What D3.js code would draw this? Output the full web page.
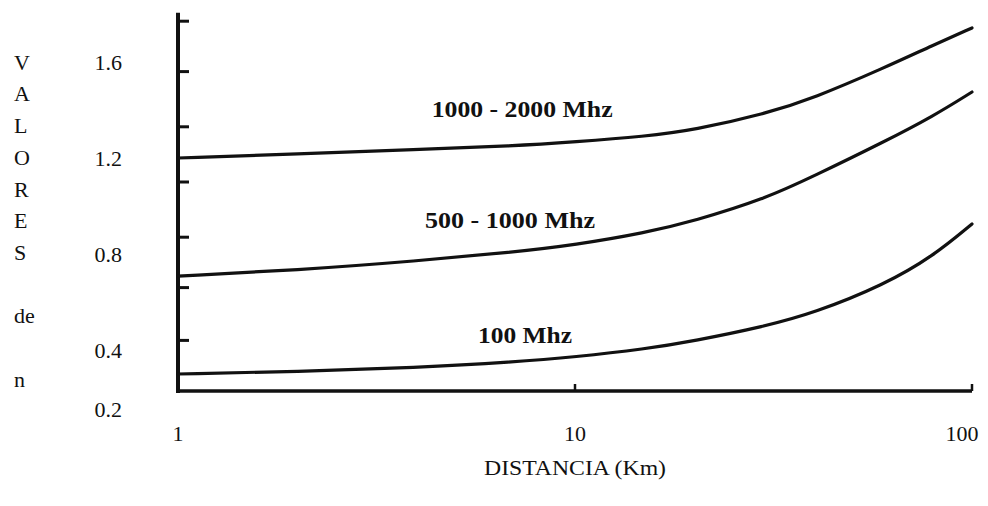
<!DOCTYPE html>
<html>
<head>
<meta charset="utf-8">
<script src="https://cdn.jsdelivr.net/npm/d3@7"></script>
<style>
  html, body { margin: 0; padding: 0; background: #fff; }
  svg { display: block; }
  text { font-family: "Liberation Serif", "Times New Roman", Times, serif; fill: #111; }
</style>
</head>
<body>
<svg id="chart" width="988" height="506"></svg>
<script>
// Distance samples (km) along the log axis
const distances = [1, 2, 4, 7, 10, 15, 20, 30, 40, 60, 80, 100];

// Values of n for each frequency band
const band1000to2000 = [1.200, 1.217, 1.235, 1.250, 1.267, 1.290, 1.317, 1.383, 1.450, 1.575, 1.671, 1.742];
const band500to1000  = [0.708, 0.733, 0.771, 0.808, 0.838, 0.888, 0.938, 1.029, 1.125, 1.267, 1.375, 1.475];
const band100        = [0.300, 0.310, 0.327, 0.350, 0.371, 0.404, 0.438, 0.498, 0.554, 0.671, 0.792, 0.925];

const seriesNames = ["1000 - 2000 Mhz", "500 - 1000 Mhz", "100 Mhz"];

// Axis labelling
const xTickValues = [1, 10, 100];
const yLabelValues = [1.6, 1.2, 0.8, 0.4, 0.2];
const yMarkValues = [0.44, 0.66, 0.87, 1.10, 1.33, 1.56, 1.77];
const yTitleLines = ["V", "A", "L", "O", "R", "E", "S", "", "de", "", "n"];
const xTitle = "DISTANCIA (Km)";

const svg = d3.select("#chart");

const plotLeft = 178, plotRight = 972, plotBottom = 391;
const x = d3.scaleLog().domain([1, 100]).range([plotLeft, plotRight]);
const y = d3.scaleLinear().domain([0.2, 1.6]).range([398, 62]);

// Vertical axis line with short inward tick marks
svg.append("line")
  .attr("x1", plotLeft).attr("x2", plotLeft)
  .attr("y1", y(1.805)).attr("y2", plotBottom + 2)
  .attr("stroke", "#111").attr("stroke-width", 4);

svg.selectAll("line.ymark").data(yMarkValues).join("line")
  .attr("class", "ymark")
  .attr("x1", plotLeft).attr("x2", plotLeft + 11)
  .attr("y1", d => y(d)).attr("y2", d => y(d))
  .attr("stroke", "#111").attr("stroke-width", 3);

// Horizontal axis line with small upward ticks
svg.append("line")
  .attr("x1", plotLeft - 2).attr("x2", x(100))
  .attr("y1", plotBottom).attr("y2", plotBottom)
  .attr("stroke", "#111").attr("stroke-width", 3.5);

svg.selectAll("line.xmark").data(xTickValues.slice(1)).join("line")
  .attr("class", "xmark")
  .attr("x1", d => x(d)).attr("x2", d => x(d))
  .attr("y1", plotBottom).attr("y2", plotBottom - 7)
  .attr("stroke", "#111").attr("stroke-width", 2.5);

// Y value labels; the lowest one sits just below the baseline
svg.selectAll("text.ylab").data(yLabelValues).join("text")
  .attr("class", "ylab")
  .attr("x", 122)
  .attr("y", d => y(d) + (d === 0.2 ? 11 : 0))
  .attr("dy", "0.35em")
  .attr("text-anchor", "end")
  .attr("font-size", 22)
  .text(d => d.toFixed(1));

// Stacked vertical title
svg.selectAll("text.ytitle").data(yTitleLines).join("text")
  .attr("class", "ytitle")
  .attr("x", 14)
  .attr("y", (d, i) => 62 + i * 31.7)
  .attr("dy", "0.35em")
  .attr("font-size", 22)
  .text(d => d);

// X tick labels
svg.selectAll("text.xlab").data(xTickValues).join("text")
  .attr("class", "xlab")
  .attr("x", d => x(d) - (d === 100 ? 10 : 0))
  .attr("y", 433)
  .attr("dy", "0.35em")
  .attr("text-anchor", "middle")
  .attr("font-size", 22)
  .text(d => d);

svg.append("text")
  .attr("x", x(10))
  .attr("y", 467)
  .attr("dy", "0.35em")
  .attr("text-anchor", "middle")
  .attr("font-size", 22)
  .attr("textLength", 182)
  .attr("lengthAdjust", "spacingAndGlyphs")
  .text(xTitle);

// Curves: a B-spline through the samples gives the smooth hand-drawn bends
const line = d3.line()
  .x(d => x(d[0]))
  .y(d => y(d[1]))
  .curve(d3.curveBasis);

const series = [band1000to2000, band500to1000, band100];
svg.selectAll("path.curve").data(series).join("path")
  .attr("class", "curve")
  .attr("d", vals => line(distances.map((dist, i) => [dist, vals[i]])))
  .attr("fill", "none")
  .attr("stroke", "#111")
  .attr("stroke-width", 3.2)
  .attr("stroke-linecap", "round");

// Band labels placed above each curve
const labelAnchors = [
  { dist: 7.36, val: 1.371, width: 181 },
  { dist: 6.86, val: 0.908, width: 170 },
  { dist: 7.48, val: 0.429, width: 94 }
];
svg.selectAll("text.band").data(seriesNames).join("text")
  .attr("class", "band")
  .attr("x", (d, i) => x(labelAnchors[i].dist))
  .attr("y", (d, i) => y(labelAnchors[i].val))
  .attr("text-anchor", "middle")
  .attr("font-size", 23)
  .attr("font-weight", "bold")
  .attr("textLength", (d, i) => labelAnchors[i].width)
  .attr("lengthAdjust", "spacingAndGlyphs")
  .text(d => d);
</script>
</body>
</html>
